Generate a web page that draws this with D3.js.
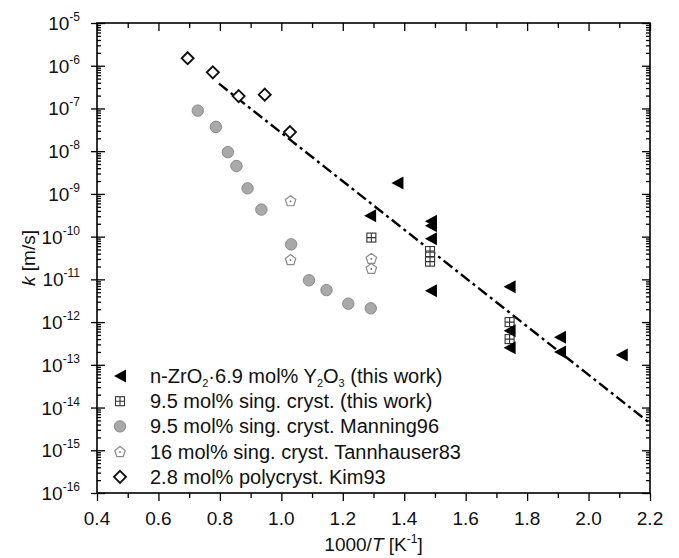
<!DOCTYPE html>
<html>
<head>
<meta charset="utf-8">
<script src="https://cdn.jsdelivr.net/npm/d3@7"></script>
<style>
  html, body { margin: 0; padding: 0; background: #fff; }
  svg { display: block; font-family: "Liberation Sans", Arial, Helvetica, sans-serif; }
</style>
</head>
<body>
<svg id="chart" width="679" height="558"></svg>
<script>
// ---- data ----
const triX = [1.289, 1.378, 1.487, 1.487, 1.487, 1.487, 1.743, 1.743, 1.743, 1.907, 1.907, 2.108];
const triK = [3.1e-10, 1.8e-9, 2.3e-10, 1.8e-10, 8.9e-11, 5.4e-12, 6.7e-12, 6.3e-13, 2.5e-13, 4.4e-13, 2.0e-13, 1.7e-13];

const sqX = [1.293, 1.484, 1.484, 1.484, 1.743, 1.743];
const sqK = [9.5e-11, 4.6e-11, 3.4e-11, 2.6e-11, 1.0e-12, 4.0e-13];

const manX = [0.728, 0.787, 0.826, 0.854, 0.890, 0.935, 1.032, 1.090, 1.147, 1.218, 1.291];
const manK = [8.9e-8, 3.7e-8, 9.5e-9, 4.5e-9, 1.35e-9, 4.3e-10, 6.6e-11, 9.5e-12, 5.6e-12, 2.7e-12, 2.1e-12];

const tanX = [1.030, 1.030, 1.293, 1.293];
const tanK = [6.9e-10, 2.9e-11, 3.1e-11, 1.8e-11];

const kimX = [0.695, 0.777, 0.861, 0.946, 1.028];
const kimK = [1.5e-6, 7.0e-7, 1.95e-7, 2.1e-7, 2.8e-8];

const fitX = [0.797, 2.2];
const fitK = [3.8e-7, 4.3e-15];

const xTicks = [0.4, 0.6, 0.8, 1.0, 1.2, 1.4, 1.6, 1.8, 2.0, 2.2];
const xMinor = [0.5, 0.7, 0.9, 1.1, 1.3, 1.5, 1.7, 1.9, 2.1];
const yExps = [-5, -6, -7, -8, -9, -10, -11, -12, -13, -14, -15, -16];

const legendKeys = ["tri", "sq", "man", "tan", "kim"];

// ---- layout ----
const svg = d3.select("#chart");
const L = 97, R = 650, T = 23, B = 493;
const x = d3.scaleLinear().domain([0.4, 2.2]).range([L, R]);
const y = d3.scaleLog().domain([1e-16, 1e-5]).range([B, T]);

const yMajor = yExps.map(e => Math.pow(10, e));
const yMinor = [];
for (let e = -16; e < -5; e++) for (let m = 2; m <= 9; m++) yMinor.push(m * Math.pow(10, e));

const gAx = svg.append("g");
function axisG(axis, tx, ty) {
  const g = gAx.append("g").attr("transform", `translate(${tx},${ty})`).call(axis);
  g.select(".domain").remove();
  g.selectAll("line").attr("stroke", "#000").attr("stroke-width", 1.3);
  g.selectAll("text").remove();
  return g;
}
// bottom: outward
axisG(d3.axisBottom(x).tickValues(xTicks).tickSize(8).tickFormat(""), 0, B);
axisG(d3.axisBottom(x).tickValues(xMinor).tickSize(5).tickFormat(""), 0, B);
// top: inward
axisG(d3.axisTop(x).tickValues(xTicks).tickSize(-8).tickFormat(""), 0, T);
axisG(d3.axisTop(x).tickValues(xMinor).tickSize(-5).tickFormat(""), 0, T);
// left
axisG(d3.axisLeft(y).tickValues(yMajor).tickSize(6).tickFormat(""), L, 0);
axisG(d3.axisLeft(y).tickValues(yMajor).tickSize(-8).tickFormat(""), L, 0);
axisG(d3.axisLeft(y).tickValues(yMinor).tickSize(-4).tickFormat(""), L, 0);
// right
axisG(d3.axisRight(y).tickValues(yMajor).tickSize(-8).tickFormat(""), R, 0);
axisG(d3.axisRight(y).tickValues(yMinor).tickSize(-4).tickFormat(""), R, 0);

// frame
svg.append("rect").attr("x", L).attr("y", T).attr("width", R - L).attr("height", B - T)
  .attr("fill", "none").attr("stroke", "#000").attr("stroke-width", 1.6);

// x tick labels
svg.append("g").selectAll("text").data(xTicks).join("text")
  .attr("x", d => x(d)).attr("y", B + 32)
  .attr("text-anchor", "middle").attr("font-size", 19).attr("fill", "#111")
  .text(d => d.toFixed(1));

// y tick labels
const yl = svg.append("g").selectAll("text").data(yExps).join("text")
  .attr("x", L - 17).attr("y", d => y(Math.pow(10, d)) + 7)
  .attr("text-anchor", "end").attr("font-size", 19).attr("fill", "#111");
yl.append("tspan").text("10");
yl.append("tspan").attr("font-size", 12).attr("dy", -9).text(d => String(d));

// axis titles
const xt = svg.append("text").attr("x", (L + R) / 2).attr("y", 551)
  .attr("text-anchor", "middle").attr("font-size", 19).attr("fill", "#111");
xt.append("tspan").text("1000/");
xt.append("tspan").attr("font-style", "italic").text("T");
xt.append("tspan").text(" [K");
xt.append("tspan").attr("font-size", 12).attr("dy", -8).text("-1");
xt.append("tspan").attr("dy", 8).text("]");

const yt = svg.append("text").attr("transform", `translate(35,${(T + B) / 2}) rotate(-90)`)
  .attr("text-anchor", "middle").attr("font-size", 19).attr("fill", "#111");
yt.append("tspan").attr("font-style", "italic").text("k");
yt.append("tspan").text(" [m/s]");

// fit line
svg.append("line")
  .attr("x1", x(fitX[0])).attr("y1", y(fitK[0]))
  .attr("x2", x(fitX[1])).attr("y2", y(fitK[1]))
  .attr("stroke", "#000").attr("stroke-width", 2.4)
  .attr("stroke-dasharray", "11,4,3,4");

// marker drawers
const markers = {
  tri: (g) => g.append("path").attr("d", "M-6,0 L6,-6.5 L6,6.5 Z").attr("fill", "#000"),
  sq: (g) => {
    g.append("rect").attr("x", -4.5).attr("y", -4.5).attr("width", 9).attr("height", 9)
      .attr("fill", "#fff").attr("stroke", "#333").attr("stroke-width", 1.1);
    g.append("path").attr("d", "M-4.5,0 H4.5 M0,-4.5 V4.5").attr("stroke", "#333").attr("stroke-width", 1.1);
  },
  man: (g) => g.append("circle").attr("r", 5.7).attr("fill", "#a9a9a9").attr("stroke", "#8a8a8a").attr("stroke-width", 1),
  tan: (g) => {
    const pts = d3.range(5).map(i => {
      const a = -Math.PI / 2 + i * 2 * Math.PI / 5;
      return [5.5 * Math.cos(a), 5.5 * Math.sin(a) + 0.5];
    });
    g.append("path").attr("d", "M" + pts.map(p => p.join(",")).join("L") + "Z")
      .attr("fill", "#fff").attr("stroke", "#8a8a8a").attr("stroke-width", 1.2);
    g.append("circle").attr("r", 0.9).attr("cy", 0.5).attr("fill", "#666");
  },
  kim: (g) => g.append("path").attr("d", "M0,-6 L6,0 L0,6 L-6,0 Z")
    .attr("fill", "#fff").attr("stroke", "#111").attr("stroke-width", 1.9)
};

function drawSeries(xs, ks, key) {
  const data = xs.map((v, i) => [v, ks[i]]);
  svg.append("g").selectAll("g").data(data).join("g")
    .attr("transform", d => `translate(${x(d[0])},${y(d[1])})`)
    .each(function () { markers[key](d3.select(this)); });
}
drawSeries(manX, manK, "man");
drawSeries(tanX, tanK, "tan");
drawSeries(kimX, kimK, "kim");
drawSeries(sqX, sqK, "sq");
drawSeries(triX, triK, "tri");

// legend
const lg = svg.append("g");
legendKeys.forEach((k, i) => {
  const cy = 376 + i * 25.2;
  const m = lg.append("g").attr("transform", `translate(120,${cy})`);
  markers[k](m);
  const t = lg.append("text").attr("x", 150).attr("y", cy + 7).attr("font-size", 20).attr("fill", "#111");
  if (k === "tri") {
    t.append("tspan").text("n-ZrO");
    t.append("tspan").attr("font-size", 11).attr("dy", 4).text("2");
    t.append("tspan").attr("dy", -4).text("·6.9 mol% Y");
    t.append("tspan").attr("font-size", 11).attr("dy", 4).text("2");
    t.append("tspan").attr("dy", -4).text("O");
    t.append("tspan").attr("font-size", 11).attr("dy", 4).text("3");
    t.append("tspan").attr("dy", -4).text(" (this work)");
  } else if (k === "sq") {
    t.text("9.5 mol% sing. cryst. (this work)");
  } else if (k === "man") {
    t.text("9.5 mol% sing. cryst. Manning96");
  } else if (k === "tan") {
    t.text("16 mol% sing. cryst. Tannhauser83");
  } else {
    t.text("2.8 mol% polycryst. Kim93");
  }
});
</script>
</body>
</html>
